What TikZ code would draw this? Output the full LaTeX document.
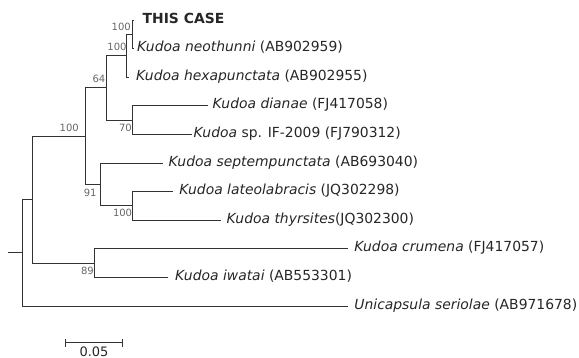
\documentclass[tikz,border=0pt]{standalone}
\usepackage{fontspec}
\setmainfont{DejaVu Sans}
\begin{document}
\begin{tikzpicture}[x=1pt,y=-1pt,
  branch/.style={draw=black!80,line width=0.95pt},
  leaf/.style={anchor=west,inner sep=0pt,text height=0.76em,text depth=0.13em,font=\fontsize{13.9}{15}\selectfont,text=black!85},
  boot/.style={anchor=east,inner sep=0pt,font=\fontsize{10}{12}\selectfont,text=black!60}]
\useasboundingbox (0,0) rectangle (579,358);
% internal nodes
\coordinate (R) at (22,252.8);
\coordinate (stub) at (8,252.8);
\coordinate (H) at (32.3,199.6);
\coordinate (E) at (85,136.2);
\coordinate (C) at (106,87.9);
\coordinate (B) at (126.7,55.75);
\coordinate (A) at (132.3,34.3);
\coordinate (D) at (132.7,120.1);
\coordinate (F) at (100,184.45);
\coordinate (G) at (132.7,205.9);
\coordinate (I) at (94,263.1);
% leaf tips
\coordinate (t1) at (133.5,20);
\coordinate (t2) at (134,48.6);
\coordinate (t3) at (129,77.2);
\coordinate (t4) at (208.3,105.8);
\coordinate (t5) at (191.7,134.4);
\coordinate (t6) at (162.7,163);
\coordinate (t7) at (172.7,191.6);
\coordinate (t8) at (221,220.2);
\coordinate (t9) at (348.3,248.8);
\coordinate (t10) at (168.3,277.4);
\coordinate (t11) at (348.3,306);
% branches
\draw[branch] (stub) -- (R);
\draw[branch] (R) |- (H);
\draw[branch] (R) |- (t11);
\draw[branch] (H) |- (E);
\draw[branch] (H) |- (I);
\draw[branch] (E) |- (C);
\draw[branch] (E) |- (F);
\draw[branch] (C) |- (B);
\draw[branch] (C) |- (D);
\draw[branch] (B) |- (A);
\draw[branch] (B) |- (t3);
\draw[branch] (A) |- (t1);
\draw[branch] (A) |- (t2);
\draw[branch] (D) |- (t4);
\draw[branch] (D) |- (t5);
\draw[branch] (F) |- (t6);
\draw[branch] (F) |- (G);
\draw[branch] (G) |- (t7);
\draw[branch] (G) |- (t8);
\draw[branch] (I) |- (t9);
\draw[branch] (I) |- (t10);
% leaf labels
\node[leaf] (l1) at (142.5,20) {\textbf{THIS CASE}};
\node[leaf] (l2) at (137,48.6) {\textit{Kudoa neothunni} (AB902959)};
\node[leaf] (l3) at (136,77.2) {\textit{Kudoa hexapunctata} (AB902955)};
\node[leaf] (l4) at (212.5,105.8) {\textit{Kudoa dianae} (FJ417058)};
\node[leaf] (l5) at (193.5,134.4) {\textit{Kudoa} sp. IF-2009 (FJ790312)};
\node[leaf] (l6) at (168.5,163) {\textit{Kudoa septempunctata} (AB693040)};
\node[leaf] (l7) at (179.2,191.6) {\textit{Kudoa lateolabracis} (JQ302298)};
\node[leaf] (l8) at (226.5,220.2) {\textit{Kudoa thyrsites}(JQ302300)};
\node[leaf] (l9) at (354.2,248.8) {\textit{Kudoa crumena} (FJ417057)};
\node[leaf] (l10) at (175,277.4) {\textit{Kudoa iwatai} (AB553301)};
\node[leaf] (l11) at (354.2,306) {\textit{Unicapsula seriolae} (AB971678)};
% bootstrap values
\node[boot] (bA) at (131,26.7) {100};
\node[boot] (bB) at (126.7,47.3) {100};
\node[boot] (bC) at (105.5,79) {64};
\node[boot] (bD) at (132,127.7) {70};
\node[boot] (bE) at (79,127.7) {100};
\node[boot] (bF) at (96.7,192.7) {91};
\node[boot] (bG) at (132.3,213.3) {100};
\node[boot] (bI) at (94,271) {89};
% scale bar
\coordinate (s1) at (65,342.7);
\coordinate (s2) at (122.7,342.7);
\draw[branch] (s1) -- (s2);
\draw[branch] ([yshift=-4pt]s1) -- ([yshift=4pt]s1);
\draw[branch] ([yshift=-4pt]s2) -- ([yshift=4pt]s2);
\node[anchor=north,inner sep=0pt,font=\fontsize{13}{15}\selectfont,text=black!85] (sl) at (94,346.3) {0.05};
\end{tikzpicture}
\end{document}
